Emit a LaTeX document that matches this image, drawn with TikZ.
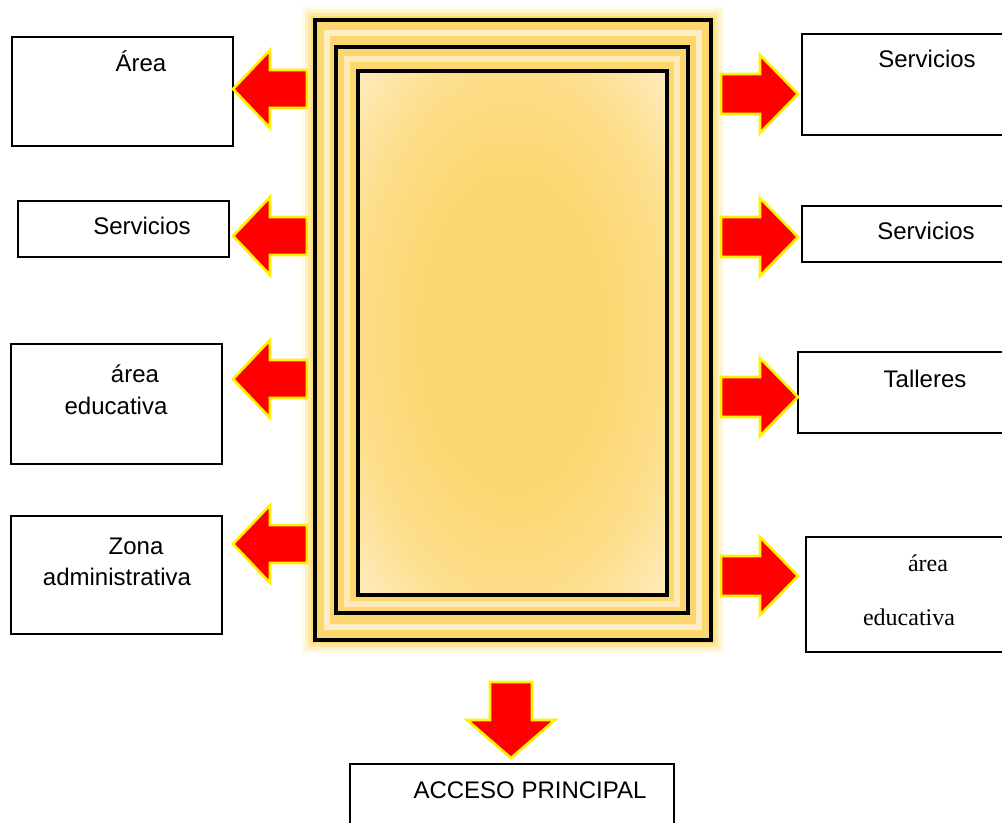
\documentclass[tikz,border=0pt]{standalone}
\usepackage{fontspec}
\setmainfont{Liberation Sans}
\newfontfamily\serifface{Liberation Serif}
\definecolor{gold}{HTML}{FCD66E}
\definecolor{cream}{HTML}{FEEAB8}
\definecolor{glowc}{HTML}{FFD23C}
\pgfdeclareradialshading{panelglow}{\pgfpoint{0bp}{0bp}}{%
  color(0bp)=(gold); color(14bp)=(gold); color(26bp)=(gold!60!cream);
  color(34bp)=(cream); color(50bp)=(cream)}
\begin{document}
\begin{tikzpicture}[x=0.75pt,y=-0.75pt,
  box/.style={draw=black,line width=1.5pt,fill=white},
  label/.style={font=\fontsize{18}{20}\selectfont,anchor=base,inner sep=0pt},
  slabel/.style={font=\serifface\fontsize{18}{20}\selectfont,anchor=base,inner sep=0pt},
  blockarrow/.style={fill=red,draw=yellow,line width=2pt,line join=miter},
  frameline/.style={draw=black,line width=2.4pt}]
\useasboundingbox (0,0) rectangle (1002,823);
\clip (0,0) rectangle (1002,823);

% soft glow round the frame
\foreach \w/\o in {20/0.12,15/0.18,10/0.28,6/0.45}
  \draw[glowc,line width=\w pt,opacity=\o] (315,20) rectangle (711,640);

% frame bands
\fill[gold] (315,20) rectangle (711,640);
\draw[white,line width=4pt,opacity=0.6] (327,33) rectangle (699,627);
\draw[white,line width=4pt,opacity=0.5] (347,59) rectangle (677,604);
\shade[shading=panelglow] (358,71) rectangle (667,595);
\draw[frameline] (315,20) rectangle (711,640);
\draw[frameline] (336,47) rectangle (688,613);
\draw[frameline] (358,71) rectangle (667,595);

% left boxes
\draw[box] (12,37) rectangle (233,146);
\node[label] (l1) at (141,72) {Área};
\draw[box] (18,201) rectangle (229,257);
\node[label] (l2) at (142,235) {Servicios};
\draw[box] (11,344) rectangle (222,464);
\node[label] (l3a) at (135,382) {área};
\node[label] (l3b) at (116,414) {educativa};
\draw[box] (11,516) rectangle (222,634);
\node[label] (l4a) at (136,554) {Zona};
\node[label] (l4b) at (117,585) {administrativa};

% right boxes
\draw[box] (802,34) rectangle (1012,135);
\node[label] (r1) at (927,68) {Servicios};
\draw[box] (802,206) rectangle (1012,262);
\node[label] (r2) at (926,240) {Servicios};
\draw[box] (798,352) rectangle (1012,433);
\node[label] (r3) at (925,387) {Talleres};
\draw[box] (806,537) rectangle (1012,652);
\node[slabel] (r4a) at (928,571) {área};
\node[slabel] (r4b) at (909,625) {educativa};

% entrance box
\draw[box] (350,764) rectangle (674,830);
\node[label] (acc) at (530,798) {ACCESO PRINCIPAL};

% left block arrows
\foreach \y in {89,236,379,544}
  \draw[blockarrow] (233,\y) -- (270,{\y-39}) -- (270,{\y-19}) -- (307,{\y-19})
    -- (307,{\y+19}) -- (270,{\y+19}) -- (270,{\y+39}) -- cycle;

% right block arrows
\foreach \y in {94,237,397,576}
  \draw[blockarrow] (798,\y) -- (760,{\y-39}) -- (760,{\y-20}) -- (721,{\y-20})
    -- (721,{\y+20}) -- (760,{\y+20}) -- (760,{\y+39}) -- cycle;

% downward arrow to the entrance
\draw[blockarrow] (511,758) -- (467,720) -- (490,720) -- (490,682) -- (532,682)
  -- (532,720) -- (555,720) -- cycle;
\end{tikzpicture}
\end{document}
